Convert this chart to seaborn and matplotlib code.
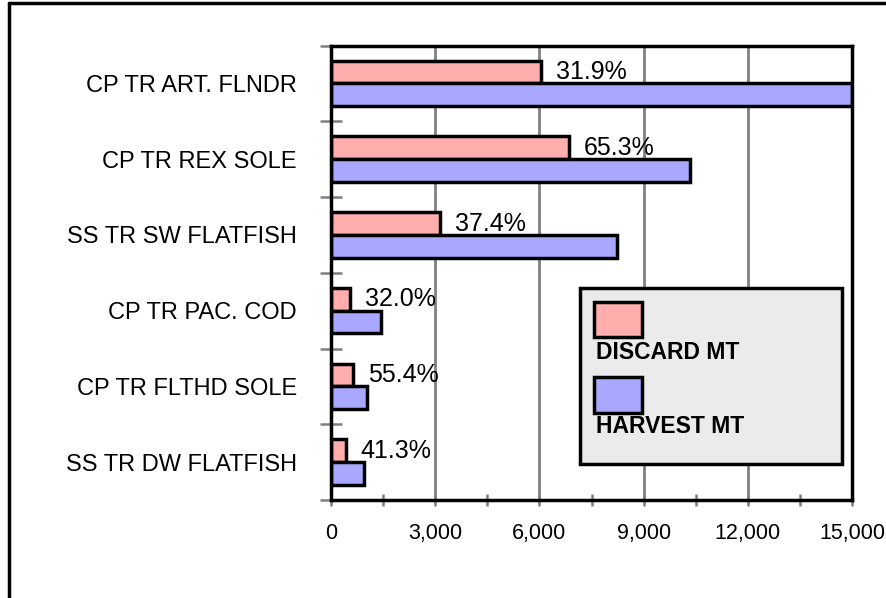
import numpy as np
import pandas as pd
import matplotlib
matplotlib.use("Agg")
import matplotlib.pyplot as plt
import seaborn as sns
from matplotlib.patches import Rectangle
from matplotlib.lines import Line2D
from matplotlib.ticker import MultipleLocator, FixedLocator, FuncFormatter

# ---- data ----
categories = ["CP TR ART. FLNDR", "CP TR REX SOLE", "SS TR SW FLATFISH",
              "CP TR PAC. COD", "CP TR FLTHD SOLE", "SS TR DW FLATFISH"]
discard_mt = [6050, 6850, 3140, 560, 640, 430]
harvest_mt = [15000, 10340, 8230, 1450, 1050, 950]
pct_labels = ["31.9%", "65.3%", "37.4%", "32.0%", "55.4%", "41.3%"]
series_names = ["DISCARD MT", "HARVEST MT"]
x_ticks = [0, 3000, 6000, 9000, 12000, 15000]

colors = {"DISCARD MT": "#ffadad", "HARVEST MT": "#a8a8ff"}

df = pd.DataFrame({
    "fishery": categories * 2,
    "mt": discard_mt + harvest_mt,
    "series": [series_names[0]] * len(categories) + [series_names[1]] * len(categories),
})

sns.set_style("white")
plt.rcParams["font.family"] = ["Liberation Sans", "DejaVu Sans"]
plt.rcParams["text.color"] = "black"
plt.rcParams["xtick.labelcolor"] = "black"
plt.rcParams["ytick.labelcolor"] = "black"

fig = plt.figure(figsize=(8.86, 5.98), dpi=100)
W, H = 886, 598
ax = fig.add_axes([331 / W, 1 - 500 / H, 521 / W, 454.5 / H])

sns.barplot(data=df, y="fishery", x="mt", hue="series", hue_order=series_names,
            order=categories, palette=colors, orient="h", width=0.6, dodge=True,
            edgecolor="black", linewidth=2.5, legend=False, ax=ax, zorder=3,
            saturation=1)

ax.set_xlim(x_ticks[0], x_ticks[-1])
ax.set_ylim(len(categories) - 0.5, -0.5)
ax.set_xlabel("")
ax.set_ylabel("")
ax.set_axisbelow(True)
ax.xaxis.grid(True, which="major", color="#808080", linewidth=2)
ax.yaxis.grid(False)

ax.xaxis.set_major_locator(FixedLocator(x_ticks))
ax.xaxis.set_minor_locator(MultipleLocator(1500))
ax.xaxis.set_major_formatter(FuncFormatter(lambda v, p: f"{v:,.0f}"))
ax.tick_params(axis="x", which="both", bottom=True, direction="inout",
               length=8.6, width=1.8, color="#808080", labelcolor="black")
ax.tick_params(axis="x", which="major", labelsize=15.5, pad=12.5)

ax.yaxis.set_minor_locator(FixedLocator(np.arange(-0.5, len(categories), 1.0)))
ax.tick_params(axis="y", which="major", left=True, length=0, labelsize=17, pad=24.5,
               labelcolor="black")
ax.tick_params(axis="y", which="minor", left=True, direction="inout",
               length=15.8, width=1.8, color="#808080")

for s in ax.spines.values():
    s.set_visible(True)
    s.set_color("black")
    s.set_linewidth(2.5)
    s.set_zorder(4)

# percentage labels on discard bars
ax.bar_label(ax.containers[0], labels=pct_labels, padding=10.5, fontsize=18,
             color="black", zorder=6)

# custom legend (patch above text)
ax.add_patch(Rectangle((0.478, 0.0793), 0.503, 0.387, transform=ax.transAxes,
                       facecolor="#ebebeb", edgecolor="black", linewidth=2.5,
                       zorder=7, clip_on=False))
ax.add_patch(Rectangle((0.505, 0.359), 0.092, 0.0756, transform=ax.transAxes,
                       facecolor=colors[series_names[0]], edgecolor="black",
                       linewidth=2.5, zorder=8, clip_on=False))
ax.text(0.5086, 0.3099, series_names[0], transform=ax.transAxes, fontsize=16.5,
        fontweight="bold", va="baseline", ha="left", color="black", zorder=8)
ax.add_patch(Rectangle((0.505, 0.1923), 0.092, 0.0793, transform=ax.transAxes,
                       facecolor=colors[series_names[1]], edgecolor="black",
                       linewidth=2.5, zorder=8, clip_on=False))
ax.text(0.5086, 0.1476, series_names[1], transform=ax.transAxes, fontsize=16.5,
        fontweight="bold", va="baseline", ha="left", color="black", zorder=8)

# figure frame (left and top edges visible)
fig.add_artist(Line2D([9 / W, 9 / W], [0, 1 - 3 / H], transform=fig.transFigure,
                      color="black", linewidth=2.5))
fig.add_artist(Line2D([9 / W, 1], [1 - 3 / H, 1 - 3 / H], transform=fig.transFigure,
                      color="black", linewidth=2.5))

fig.savefig("out.png", dpi=100, facecolor="white")
